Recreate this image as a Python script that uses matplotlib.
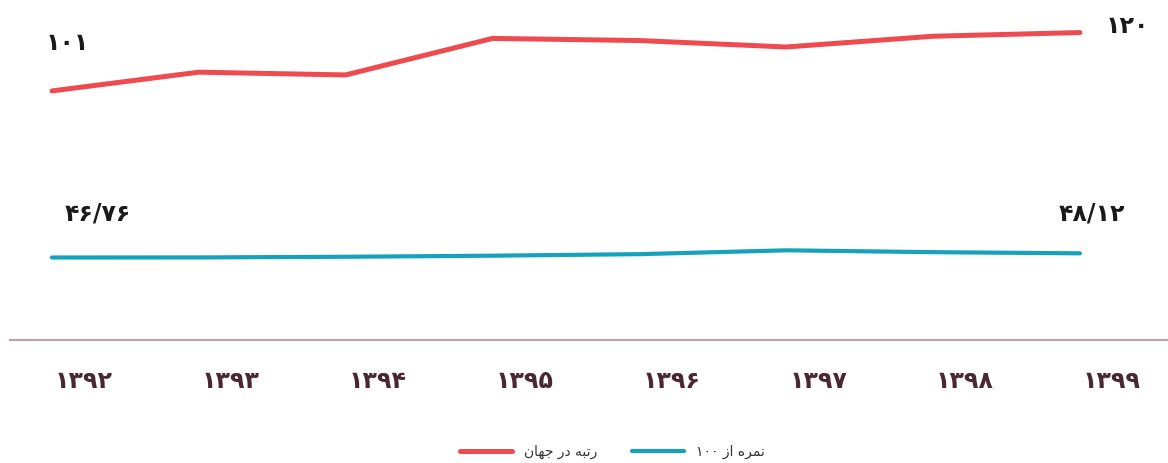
import matplotlib
matplotlib.use("Agg")
import matplotlib.pyplot as plt
from matplotlib.transforms import ScaledTranslation

# ---------------- data ----------------
years = ["۱۳۹۲", "۱۳۹۳", "۱۳۹۴", "۱۳۹۵", "۱۳۹۶", "۱۳۹۷", "۱۳۹۸", "۱۳۹۹"]
rank_world = [101, 107.1, 106.2, 118.1, 117.4, 115.3, 118.8, 120]
score_100 = [46.76, 46.78, 47.0, 47.35, 47.85, 49.1, 48.5, 48.12]
series_names = ["رتبه در جهان", "نمره از ۱۰۰"]
rank_first_label, rank_last_label = "۱۰۱", "۱۲۰"
score_first_label, score_last_label = "۴۶/۷۶", "۴۸/۱۲"

# ------------- simple Arabic/Persian shaping for display -------------
FORMS = {
    "ب": ("\uFE8F", "\uFE90", "\uFE91", "\uFE92"),
    "ت": ("\uFE95", "\uFE96", "\uFE97", "\uFE98"),
    "ج": ("\uFE9D", "\uFE9E", "\uFE9F", "\uFEA0"),
    "ه": ("\uFEE9", "\uFEEA", "\uFEEB", "\uFEEC"),
    "ن": ("\uFEE5", "\uFEE6", "\uFEE7", "\uFEE8"),
    "م": ("\uFEE1", "\uFEE2", "\uFEE3", "\uFEE4"),
    "ر": ("\uFEAD", "\uFEAE"),
    "د": ("\uFEA9", "\uFEAA"),
    "ا": ("\uFE8D", "\uFE8E"),
    "ز": ("\uFEAF", "\uFEB0"),
    "و": ("\uFEED", "\uFEEE"),
}


def _shape_word(w):
    out = []
    for i, c in enumerate(w):
        if c not in FORMS:
            out.append(c)
            continue
        f = FORMS[c]
        prev = w[i - 1] if i > 0 else None
        nxt = w[i + 1] if i + 1 < len(w) else None
        jp = prev in FORMS and len(FORMS[prev]) == 4
        jn = len(f) == 4 and nxt in FORMS
        if jp and jn:
            out.append(f[3])
        elif jp:
            out.append(f[1])
        elif jn:
            out.append(f[2])
        else:
            out.append(f[0])
    return "".join(reversed(out))


def rtl(s):
    toks = s.split(" ")
    vis = [_shape_word(t) if any(ch in FORMS for ch in t) else t for t in toks]
    return " ".join(reversed(vis))


# ---------------- figure ----------------
W, H, DPI = 1168, 463, 100
fig = plt.figure(figsize=(W / DPI, H / DPI), dpi=DPI)
ax = fig.add_axes([10 / W, (H - 340) / H, (W - 10) / W, 340 / H])

red = "#ee4a4f"
blue = "#16a2bd"
x = list(range(len(years)))

ax.plot(x, rank_world, color=red, lw=3.6, solid_capstyle="round",
        solid_joinstyle="round", label=rtl(series_names[0]))
ax.plot(x, score_100, color=blue, lw=3.0, solid_capstyle="round",
        solid_joinstyle="round", label=rtl(series_names[1]))

ax.set_xlim(-0.286, 7.6)
ax.set_ylim(19.9, 130.6)

for s in ["top", "right", "left"]:
    ax.spines[s].set_visible(False)
ax.spines["bottom"].set_color("#b8a3a6")
ax.spines["bottom"].set_linewidth(1.6)
ax.set_yticks([])
ax.set_xticks(x)
ax.set_xticklabels(years, fontsize=17, fontweight="bold", color="#4a2832",
                   family="DejaVu Sans")
ax.tick_params(axis="x", length=0, pad=21)
for lab in ax.get_xticklabels():
    lab.set_transform(lab.get_transform() + ScaledTranslation(32 / DPI, 0, fig.dpi_scale_trans))

lab_kw = dict(textcoords="offset pixels", fontsize=17, fontweight="bold",
              color="#1a1a1a", family="DejaVu Sans", va="center")
ax.annotate(rank_first_label, xy=(0, rank_world[0]), xytext=(15, 48), ha="center", **lab_kw)
ax.annotate(rank_last_label, xy=(7, rank_world[-1]), xytext=(26, 7), ha="left", **lab_kw)
ax.annotate(score_first_label, xy=(0, score_100[0]), xytext=(46, 44), ha="center", **lab_kw)
ax.annotate(score_last_label, xy=(7, score_100[-1]), xytext=(12, 40), ha="center", **lab_kw)

leg = fig.legend(loc="center", bbox_to_anchor=(612 / W, 11 / H), ncol=2, frameon=False,
                 fontsize=10, handlelength=3.8, handletextpad=0.8, columnspacing=2.5,
                 prop={"family": "DejaVu Sans", "size": 10})
for t in leg.get_texts():
    t.set_color("#333333")

fig.savefig("out.png", dpi=DPI)
